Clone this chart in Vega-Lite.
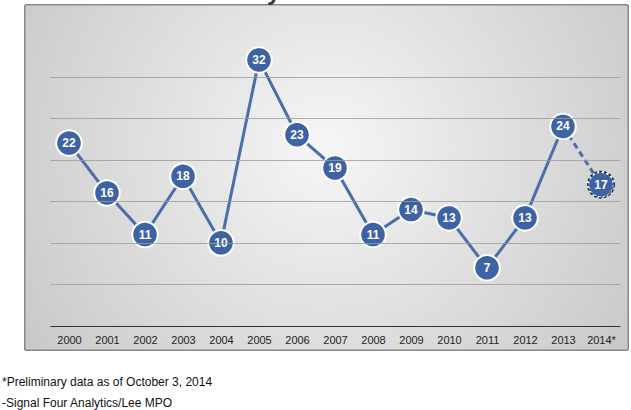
{
  "$schema": "https://vega.github.io/schema/vega-lite/v6.json",
  "autosize": "none",
  "width": 570,
  "height": 291,
  "padding": {"left": 50, "top": 35, "right": 11, "bottom": 84},
  "background": "#ffffff",
  "config": {"view": {"stroke": null}, "font": "Liberation Sans"},
  "title": {"text": "Lee County Pedestrian Fatalities Trends", "fontSize": 22, "fontWeight": "bold", "color": "#3a3a3a", "font": "Open Sans", "offset": 0, "anchor": "middle", "dx": 40, "zindex": 2},
  "data": {"values": [
    {"year": "2000", "n": 22, "kind": "actual"},
    {"year": "2001", "n": 16, "kind": "actual"},
    {"year": "2002", "n": 11, "kind": "actual"},
    {"year": "2003", "n": 18, "kind": "actual"},
    {"year": "2004", "n": 10, "kind": "actual"},
    {"year": "2005", "n": 32, "kind": "actual"},
    {"year": "2006", "n": 23, "kind": "actual"},
    {"year": "2007", "n": 19, "kind": "actual"},
    {"year": "2008", "n": 11, "kind": "actual"},
    {"year": "2009", "n": 14, "kind": "actual"},
    {"year": "2010", "n": 13, "kind": "actual"},
    {"year": "2011", "n": 7, "kind": "actual"},
    {"year": "2012", "n": 13, "kind": "actual"},
    {"year": "2013", "n": 24, "kind": "actual"},
    {"year": "2014*", "n": 17, "kind": "preliminary"}
  ]},
  "encoding": {
    "x": {"field": "year", "type": "ordinal", "sort": null, "scale": {"paddingInner": 0, "paddingOuter": 0},
      "axis": {"title": null, "labelAngle": 0, "labelFontSize": 11, "labelColor": "#222", "domainColor": "#333", "ticks": false, "labelPadding": 8, "zindex": 1}},
    "y": {"field": "n", "type": "quantitative", "scale": {"domain": [0, 35], "nice": false},
      "axis": {"title": null, "labels": false, "ticks": false, "domain": false, "values": [5, 10, 15, 20, 25, 30], "gridColor": "#9a9a9a", "gridWidth": 0.8, "zindex": 1}}
  },
  "layer": [
    {"mark": {"type": "rect", "fill": {"gradient": "radial", "x1": 0.5, "y1": 0.45, "r1": 0, "x2": 0.5, "y2": 0.45, "r2": 0.75,
      "stops": [{"offset": 0, "color": "#f6f6f6"}, {"offset": 1, "color": "#bdbdbd"}]}, "x": -25, "x2": 578, "y": -30, "y2": 315, "stroke": "#888"},
     "encoding": {"x": null, "y": null}},
    {"transform": [{"filter": "datum.kind == 'actual'"}],
     "mark": {"type": "line", "color": "#4a6eaa", "strokeWidth": 3}},
    {"transform": [{"filter": "datum.year == '2013' || datum.year == '2014*'"}],
     "mark": {"type": "line", "color": "#4a6eaa", "strokeWidth": 3, "strokeDash": [6, 4]}},
    {"mark": {"type": "circle", "size": 650, "opacity": 1, "stroke": "white", "strokeWidth": 2},
     "encoding": {"color": {"field": "kind", "type": "nominal", "scale": {"domain": ["actual", "preliminary"], "range": ["#3e63a4", "#3e63a4"]}, "legend": null},
       "strokeDash": {"field": "kind", "type": "nominal", "scale": {"domain": ["actual", "preliminary"], "range": [[1, 0], [3, 2]]}, "legend": null}}},
    {"transform": [{"filter": "datum.kind == 'preliminary'"}],
     "mark": {"type": "circle", "size": 700, "fill": null, "stroke": "#1a2a4a", "strokeWidth": 1.5, "strokeDash": [3, 2], "opacity": 1}},
    {"mark": {"type": "text", "color": "white", "fontWeight": "bold", "fontSize": 12},
     "encoding": {"text": {"field": "n"}}},
    {"data": {"values": [{"t": "*Preliminary data as of October 3, 2014"}]},
     "mark": {"type": "text", "x": -48, "y": 347, "align": "left", "fontSize": 12, "color": "#111"},
     "encoding": {"x": null, "y": null, "text": {"field": "t"}}},
    {"data": {"values": [{"t": "-Signal Four Analytics/Lee MPO"}]},
     "mark": {"type": "text", "x": -48, "y": 368, "align": "left", "fontSize": 12, "color": "#111"},
     "encoding": {"x": null, "y": null, "text": {"field": "t"}}}
  ]
}
